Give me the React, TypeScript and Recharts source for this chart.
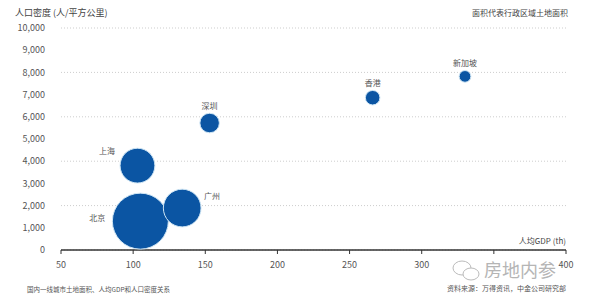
import { CartesianGrid, Scatter, ScatterChart, XAxis, YAxis, ZAxis } from "recharts";

const cities = ["北京", "上海", "广州", "深圳", "香港", "新加坡"];
const gdpPerCapita = [105, 103, 134, 153, 266, 330]; // 人均GDP, 千元
const density = [1300, 3800, 1890, 5720, 6860, 7820]; // 人/平方公里
const landArea = [16410, 6340, 7434, 1997, 1106, 719]; // 平方公里

const xTicks = [50, 100, 150, 200, 250, 300, 350, 400];
const yTicks = [0, 1000, 2000, 3000, 4000, 5000, 6000, 7000, 8000, 9000, 10000];

// where each city name sits relative to its bubble
const labelSide: Record<string, string> = {
  北京: "left",
  上海: "upleft",
  广州: "upright",
  深圳: "top",
  香港: "top",
  新加坡: "top",
};

const data = cities.map((name, i) => ({
  name,
  gdp: gdpPerCapita[i],
  density: density[i],
  area: landArea[i],
}));

const FONT = '"Noto Sans CJK SC", "Noto Sans", sans-serif';
const BLUE = "#0b55a3";
const MAX_R = 28;

function Bubble(props: any) {
  const { cx, cy, width, payload } = props;
  const r = width / 2;
  const side = labelSide[payload.name];
  let tx = cx;
  let ty = cy - r - 8;
  let anchor: "start" | "middle" | "end" = "middle";
  if (side === "left") {
    tx = cx - r - 7;
    ty = cy - 4;
    anchor = "end";
  } else if (side === "upleft") {
    tx = cx - r - 5;
    ty = cy - r + 2;
    anchor = "end";
  } else if (side === "upright") {
    tx = cx + r + 3;
    ty = cy - r * 0.67;
    anchor = "start";
  }
  return (
    <g>
      <circle cx={cx} cy={cy} r={r} fill={BLUE} stroke="#cfe6f5" strokeWidth={1} />
      <text x={tx} y={ty} textAnchor={anchor} dominantBaseline="central" fontSize={8} fill="#555" fontFamily={FONT}>
        {payload.name}
      </text>
    </g>
  );
}

export default function App() {
  return (
    <div style={{ position: "fixed", left: 0, top: 0, width: 594, height: 305, background: "#fff", fontFamily: FONT }}>
      <ScatterChart width={594} height={305} margin={{ top: 28, right: 28, bottom: 30, left: 0 }}>
        <CartesianGrid vertical={false} stroke="#cdcdcd" strokeDasharray="1 2" />
        <XAxis
          type="number"
          dataKey="gdp"
          domain={[50, 400]}
          ticks={xTicks}
          height={25}
          tick={{ fontSize: 9, fill: "#555", fontFamily: FONT }}
          tickFormatter={(v: number) => (v === 350 ? "" : String(v))}
          tickSize={4}
          tickMargin={8}
          axisLine={{ stroke: "#333", strokeWidth: 1.5 }}
          tickLine={{ stroke: "#333" }}
        />
        <YAxis
          type="number"
          dataKey="density"
          domain={[0, 10000]}
          ticks={yTicks}
          width={61}
          tick={{ fontSize: 9, fill: "#555", fontFamily: FONT }}
          tickFormatter={(v: number) => v.toLocaleString("en-US")}
          axisLine={false}
          tickLine={false}
          tickMargin={10}
        />
        <ZAxis type="number" dataKey="area" domain={[0, 16410]} range={[0, Math.PI * MAX_R * MAX_R]} />
        <Scatter data={data} shape={<Bubble />} isAnimationActive={false} />
        <text x={15} y={12} dominantBaseline="central" fontSize={9} fill="#444" fontFamily={FONT}>
          人口密度 (人/平方公里)
        </text>
        <text x={568} y={12} textAnchor="end" dominantBaseline="central" fontSize={8} fill="#444" fontFamily={FONT}>
          面积代表行政区域土地面积
        </text>
        <text x={566} y={240} textAnchor="end" dominantBaseline="central" fontSize={8} fill="#444" fontFamily={FONT}>
          人均GDP (th)
        </text>
        <text x={27} y={289} dominantBaseline="central" fontSize={6.5} fill="#555" fontFamily={FONT}>
          国内一线城市土地面积、人均GDP和人口密度关系
        </text>
        <text x={566} y={288} textAnchor="end" dominantBaseline="central" fontSize={7} fill="#555" fontFamily={FONT}>
          资料来源：万得资讯，中金公司研究部
        </text>
        {/* watermark */}
        <g stroke="#bbb" strokeWidth={1} fill="none">
          <ellipse cx={462} cy={268} rx={9} ry={7} />
          <ellipse cx={471} cy={274} rx={8} ry={6} fill="#fff" />
        </g>
        <text x={484} y={269} dominantBaseline="central" fontSize={18} fill="#b5b5b5" fontFamily={FONT}>
          房地内参
        </text>
      </ScatterChart>
    </div>
  );
}
